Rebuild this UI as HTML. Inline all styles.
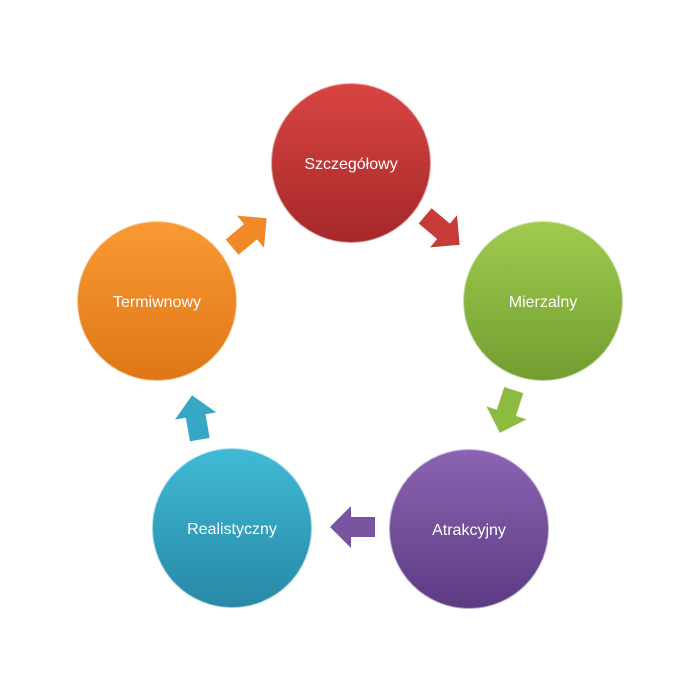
<!DOCTYPE html>
<html><head><meta charset="utf-8"><style>body{margin:0;background:#fff}svg{display:block}</style></head><body>
<svg width="700" height="700" viewBox="0 0 700 700" xmlns="http://www.w3.org/2000/svg">
<defs>
<linearGradient id="r" x1="0" y1="0" x2="0" y2="1"><stop offset="0" stop-color="#d94543"/><stop offset="1" stop-color="#a52828"/></linearGradient>
<linearGradient id="g" x1="0" y1="0" x2="0" y2="1"><stop offset="0" stop-color="#9fcc4e"/><stop offset="1" stop-color="#739c30"/></linearGradient>
<linearGradient id="p" x1="0" y1="0" x2="0" y2="1"><stop offset="0" stop-color="#8b64b2"/><stop offset="1" stop-color="#5c3b83"/></linearGradient>
<linearGradient id="b" x1="0" y1="0" x2="0" y2="1"><stop offset="0" stop-color="#40bad6"/><stop offset="1" stop-color="#2788a6"/></linearGradient>
<linearGradient id="o" x1="0" y1="0" x2="0" y2="1"><stop offset="0" stop-color="#f99a34"/><stop offset="1" stop-color="#df7616"/></linearGradient>
<path id="a" d="M-22,-10 L2,-10 L2,-21 L23,0 L2,21 L2,10 L-22,10 Z"/>
</defs>
<g stroke="rgba(255,255,255,0.55)" stroke-width="2">
<circle cx="351" cy="163" r="80" fill="url(#r)"/>
<circle cx="543" cy="301" r="80" fill="url(#g)"/>
<circle cx="469" cy="529" r="80" fill="url(#p)"/>
<circle cx="232" cy="528" r="80" fill="url(#b)"/>
<circle cx="157" cy="301" r="80" fill="url(#o)"/>
</g>
<use href="#a" fill="#c83a38" transform="translate(442,230) rotate(40)"/>
<use href="#a" fill="#8dbb40" transform="translate(507,411) rotate(108)"/>
<use href="#a" fill="#7a54a0" transform="translate(353,527) rotate(180)"/>
<use href="#a" fill="#36a8c6" transform="translate(196,418) rotate(-100)"/>
<use href="#a" fill="#f08a28" transform="translate(249,233) rotate(-40)"/>
<g font-family="Liberation Sans, sans-serif" font-size="16" fill="#fff" text-anchor="middle">
<text x="351" y="169">Szczegółowy</text>
<text x="543" y="307">Mierzalny</text>
<text x="469" y="535">Atrakcyjny</text>
<text x="232" y="534">Realistyczny</text>
<text x="157" y="307">Termiwnowy</text>
</g>
</svg>
</body></html>
